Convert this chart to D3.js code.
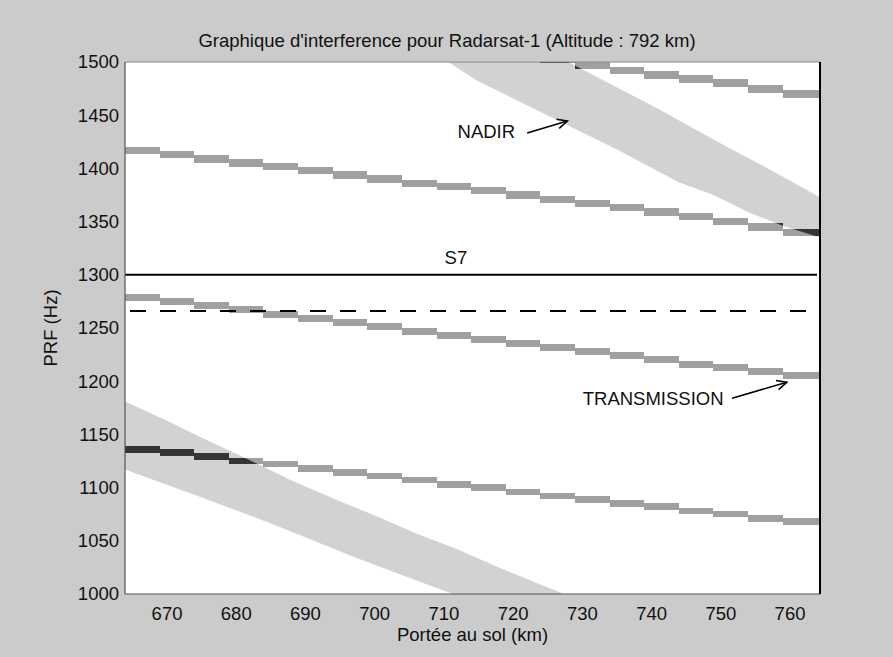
<!DOCTYPE html>
<html>
<head>
<meta charset="utf-8">
<script src="https://cdn.jsdelivr.net/npm/d3@7"></script>
<style>
  html, body { margin: 0; padding: 0; background: #cbcbcb; }
  svg { display: block; }
  text { font-family: "Liberation Sans", Arial, sans-serif; fill: #111; }
</style>
</head>
<body>
<svg id="chart" width="893" height="657"></svg>
<script>
// ---- labels -------------------------------------------------------------
const chartTitle = "Graphique d'interference pour Radarsat-1 (Altitude : 792 km)";
const xTitle = "Portée au sol (km)";
const yTitle = "PRF (Hz)";

// ---- axes ---------------------------------------------------------------
const rangeDomain = [664, 764.4];          // ground range, km
const prfDomain = [1000, 1500];            // PRF, Hz
const xTicks = [670, 680, 690, 700, 710, 720, 730, 740, 750, 760];
const yTicks = [1000, 1050, 1100, 1150, 1200, 1250, 1300, 1350, 1400, 1450, 1500];

// ---- transmission interference (stepped bands) ---------------------------
// ground-range edges of the computation steps, km
const stepEdges = [664, 669, 674, 679, 684, 689, 694, 699, 704, 709, 714,
                   719, 724, 729, 734, 739, 744, 749, 754, 759, 764.4];
// centre PRF of each step, one array per ambiguity order (null = off scale)
const txOrders = [8, 9, 10, 11];
const tx8  = [1136, 1133, 1129, 1125, 1122, 1118, 1114, 1111, 1107, 1103,
              1100, 1096, 1092, 1089, 1085, 1082, 1078, 1075, 1071, 1068];
const tx9  = [1279, 1275, 1271, 1267, 1263, 1259, 1255, 1251, 1247, 1243,
              1239, 1235, 1232, 1228, 1224, 1220, 1216, 1213, 1209, 1205];
const tx10 = [1417, 1413, 1409, 1405, 1402, 1398, 1394, 1390, 1386, 1383,
              1379, 1375, 1371, 1367, 1363, 1359, 1355, 1350, 1345, 1340];
const tx11 = [null, null, null, null, null, null, null, null, null, null,
              null, 1508, 1503, 1497, 1492, 1488, 1484, 1480, 1475, 1470];
const txHalfWidth = [3.1, 3.3, 3.5, 3.7];  // Hz, per order

// ---- nadir interference (wide bands), edges as [km, Hz] -----------------
const nadir2Upper = [[662, 1187], [664, 1181], [670, 1163], [675, 1147], [680, 1132],
                     [688, 1107], [694, 1090], [700, 1074], [706, 1057], [712, 1042],
                     [718, 1025], [724, 1009], [729, 996]];
const nadir2Lower = [[662, 1123], [664, 1117], [675, 1091], [686, 1064], [697, 1035],
                     [706, 1013], [711, 1001], [714, 994]];
const nadir3Upper = [[726, 1507], [731, 1490], [736, 1473], [741, 1456], [746, 1438],
                     [751, 1420], [756, 1403], [761, 1385], [764.4, 1373]];
const nadir3Lower = [[709, 1507], [715, 1482], [720, 1466], [725, 1450], [735, 1418],
                     [744, 1387], [749, 1375], [754, 1359], [759, 1346], [764.4, 1335]];

// ---- reference PRF lines -------------------------------------------------
const s7Prf = 1300;
const dashedPrf = 1266;

// ---- annotations (data coordinates) --------------------------------------
const notes = [
  { text: "S7",           km: 711.8, prf: 1316 },
  { text: "NADIR",        km: 716.2, prf: 1435 },
  { text: "TRANSMISSION", km: 740.3, prf: 1184 }
];
const arrows = [
  { from: [722.1, 1433.3], to: [727.9, 1444.5] },
  { from: [751.7, 1184],   to: [759.6, 1199] }
];

// ---- colours --------------------------------------------------------------
const colNadir = "#d2d2d2";
const colTx = "#a0a0a0";
const colOverlap = "#353535";

// =========================================================================
const svg = d3.select("#chart");
const W = 893, H = 657;
const plot = { left: 125, right: 820, top: 62, bottom: 594 };

const x = d3.scaleLinear().domain(rangeDomain).range([plot.left, plot.right]);
const y = d3.scaleLinear().domain(prfDomain).range([plot.bottom, plot.top]);

svg.append("rect").attr("width", W).attr("height", H).attr("fill", "#cbcbcb");

const defs = svg.append("defs");
defs.append("clipPath").attr("id", "plotClip")
  .append("rect")
  .attr("x", plot.left).attr("y", plot.top)
  .attr("width", plot.right - plot.left).attr("height", plot.bottom - plot.top);

// plot background
svg.append("rect")
  .attr("x", plot.left).attr("y", plot.top)
  .attr("width", plot.right - plot.left).attr("height", plot.bottom - plot.top)
  .attr("fill", "#ffffff");

const area = svg.append("g").attr("clip-path", "url(#plotClip)");

// nadir bands as closed polygons: upper edge left->right, lower edge right->left
const nadirBands = [
  { upper: nadir2Upper, lower: nadir2Lower, id: "nadir2" },
  { upper: nadir3Upper, lower: nadir3Lower, id: "nadir3" }
];
const bandPath = b => {
  const pts = b.upper.concat(b.lower.slice().reverse()).map(d => [x(d[0]), y(d[1])]);
  return d3.line()(pts) + "Z";
};

area.selectAll("path.nadir")
  .data(nadirBands)
  .join("path")
  .attr("class", "nadir")
  .attr("d", bandPath)
  .attr("fill", colNadir);

nadirBands.forEach(b => {
  defs.append("clipPath").attr("id", b.id + "Clip")
    .append("path").attr("d", bandPath(b));
});

// transmission steps
const txSeries = [tx8, tx9, tx10, tx11];
const txSteps = [];
txSeries.forEach((vals, k) => {
  vals.forEach((v, i) => {
    if (v === null) return;
    txSteps.push({ order: txOrders[k], x0: stepEdges[i], x1: stepEdges[i + 1],
                   lo: v - txHalfWidth[k], hi: v + txHalfWidth[k] });
  });
});

function drawSteps(g, fill) {
  g.selectAll("rect")
    .data(txSteps)
    .join("rect")
    .attr("x", d => x(d.x0))
    .attr("width", d => x(d.x1) - x(d.x0))
    .attr("y", d => y(d.hi))
    .attr("height", d => y(d.lo) - y(d.hi))
    .attr("fill", fill)
    .attr("shape-rendering", "crispEdges");
}
drawSteps(area.append("g"), colTx);

// where both interferences coincide the band is darker
nadirBands.forEach(b => {
  drawSteps(area.append("g").attr("clip-path", `url(#${b.id}Clip)`), colOverlap);
});

// S7 line (solid) and second PRF limit (dashed)
area.append("line")
  .attr("x1", x(rangeDomain[0])).attr("x2", x(rangeDomain[1]) - 3)
  .attr("y1", y(s7Prf)).attr("y2", y(s7Prf))
  .attr("stroke", "#000").attr("stroke-width", 2);
area.append("line")
  .attr("x1", x(rangeDomain[0]) + 5).attr("x2", x(rangeDomain[1]) - 3)
  .attr("y1", y(dashedPrf)).attr("y2", y(dashedPrf))
  .attr("stroke", "#000").attr("stroke-width", 2)
  .attr("stroke-dasharray", "16,14");

// annotations
svg.selectAll("text.note")
  .data(notes)
  .join("text")
  .attr("class", "note")
  .attr("x", d => x(d.km)).attr("y", d => y(d.prf))
  .attr("dy", "0.36em")
  .attr("text-anchor", "middle")
  .attr("font-size", 18.5)
  .text(d => d.text);

const arrowG = svg.append("g").attr("stroke", "#000").attr("stroke-width", 1.6)
  .attr("fill", "none");
arrows.forEach(a => {
  const x0 = x(a.from[0]), y0 = y(a.from[1]);
  const x1 = x(a.to[0]), y1 = y(a.to[1]);
  const ang = Math.atan2(y1 - y0, x1 - x0);
  const L = 11, spread = 0.45;
  arrowG.append("line").attr("x1", x0).attr("y1", y0).attr("x2", x1).attr("y2", y1);
  arrowG.append("path").attr("d", d3.line()([
    [x1 - L * Math.cos(ang - spread), y1 - L * Math.sin(ang - spread)],
    [x1, y1],
    [x1 - L * Math.cos(ang + spread), y1 - L * Math.sin(ang + spread)]
  ]));
});

// frame
const frame = svg.append("g");
frame.append("line").attr("x1", plot.left).attr("x2", plot.right)
  .attr("y1", plot.top).attr("y2", plot.top).attr("stroke", "#8a8a8a").attr("stroke-width", 1);
frame.append("line").attr("x1", plot.left).attr("x2", plot.right)
  .attr("y1", plot.bottom).attr("y2", plot.bottom).attr("stroke", "#555").attr("stroke-width", 1.2);
frame.append("line").attr("x1", plot.left).attr("x2", plot.left)
  .attr("y1", plot.top).attr("y2", plot.bottom).attr("stroke", "#555").attr("stroke-width", 1.2);
frame.append("line").attr("x1", plot.right).attr("x2", plot.right)
  .attr("y1", plot.top).attr("y2", plot.bottom).attr("stroke", "#000").attr("stroke-width", 2);

// axes (labels only)
const yAxis = d3.axisLeft(y).tickValues(yTicks).tickSize(0).tickPadding(6)
  .tickFormat(d3.format("d"));
const xAxis = d3.axisBottom(x).tickValues(xTicks).tickSize(0).tickPadding(12.5)
  .tickFormat(d3.format("d"));

const gy = svg.append("g").attr("transform", `translate(${plot.left},0)`).call(yAxis);
const gx = svg.append("g").attr("transform", `translate(0,${plot.bottom})`).call(xAxis);
[gx, gy].forEach(g => {
  g.select(".domain").remove();
  g.selectAll("text").attr("font-size", 18.5)
    .attr("font-family", "'Liberation Sans', Arial, sans-serif").attr("fill", "#111");
});

// titles
svg.append("text")
  .attr("x", 447).attr("y", 47)
  .attr("text-anchor", "middle").attr("font-size", 18.5)
  .text(chartTitle);
svg.append("text")
  .attr("x", (plot.left + plot.right) / 2).attr("y", 641)
  .attr("text-anchor", "middle").attr("font-size", 18.5)
  .text(xTitle);
svg.append("text")
  .attr("transform", `translate(57,${(plot.top + plot.bottom) / 2}) rotate(-90)`)
  .attr("text-anchor", "middle").attr("font-size", 18.5)
  .text(yTitle);
</script>
</body>
</html>
